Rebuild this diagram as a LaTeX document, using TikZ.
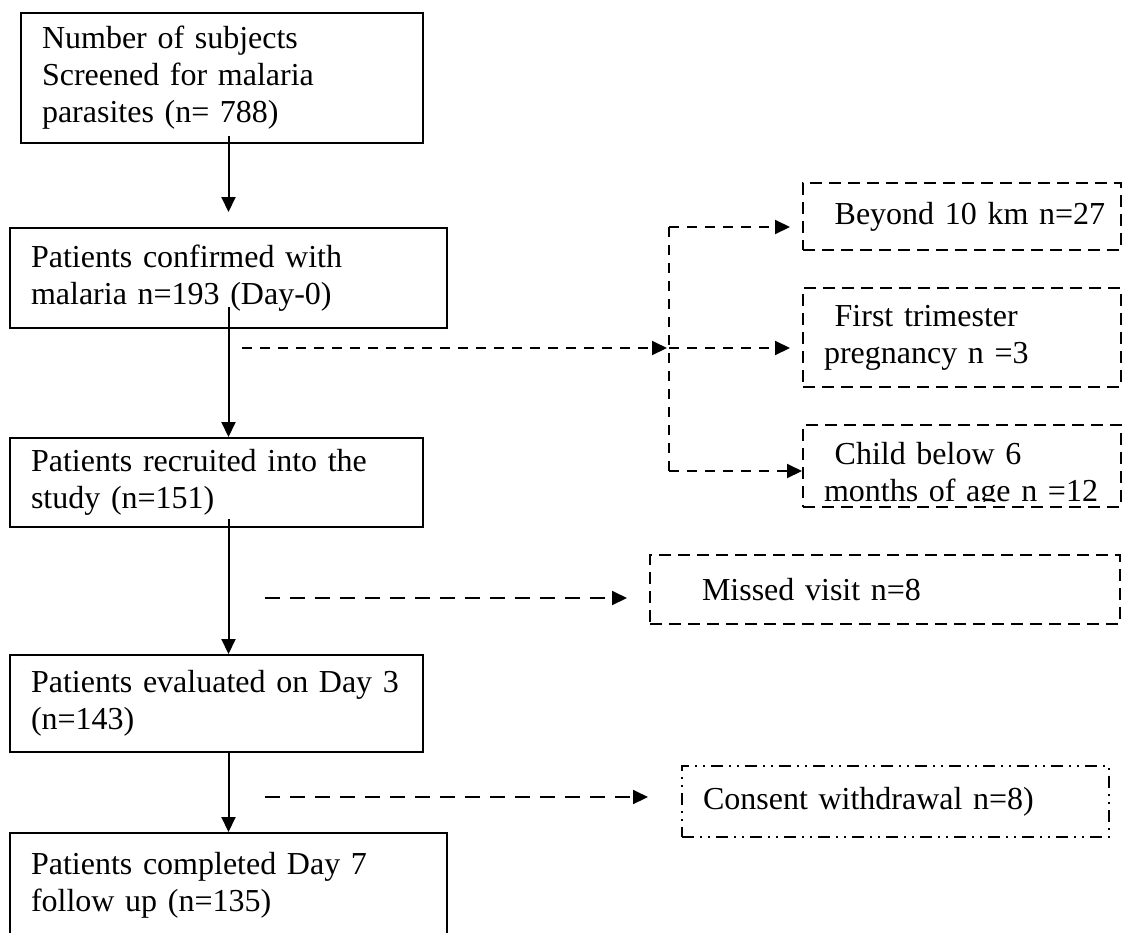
\documentclass[tikz,border=0pt]{standalone}
\usepackage{fontspec}
\setmainfont{Liberation Serif}
\usetikzlibrary{arrows.meta,calc}

\begin{document}
\begin{tikzpicture}[x=1pt,y=-1pt,
  font=\fontsize{32}{37}\selectfont,
  box/.style={draw,line width=2pt,anchor=north west,inner xsep=21pt,inner ysep=0pt,align=left},
  dbox/.style={box,dash pattern=on 12pt off 7pt},
  ddbox/.style={box,dash pattern=on 12pt off 6pt on 2pt off 6pt on 2pt off 6pt},
  flow/.style={line width=2pt,-{Triangle[length=15pt,width=14pt]}},
  excl/.style={flow,dash pattern=on 10pt off 8pt},
  excl2/.style={flow,dash pattern=on 15pt off 10pt}]
\useasboundingbox (0,0) rectangle (1124,932);

% main column
\node[box,minimum height=130pt,text width=360pt] (screen) at (20,12)
  {Number of subjects\\Screened for malaria\\parasites (n= 788)};
\node[box,minimum height=100pt,text width=395pt] (confirm) at (9,227)
  {Patients confirmed with\\malaria n=193 (Day-0)};
\node[box,minimum width=413pt,minimum height=89pt] (recruit) at (9,437) {};
\begin{scope}
  \clip (9,437) rectangle (422,517);
  \node[box,draw=none,anchor=west,text width=371pt] (recruittxt) at (recruit.west)
    {Patients recruited into the\\study (n=151)};
\end{scope}
\node[box,minimum height=97pt,text width=371pt] (eval) at (9,654)
  {Patients evaluated on Day 3\\(n=143)};
\node[box,minimum height=104pt,text width=395pt] (complete) at (9,832)
  {Patients completed Day 7\\follow up (n=135)};

% exclusions
\node[dbox,minimum height=67pt,text width=276pt] (far) at (802,182)
  {\mbox{\ Beyond 10 km n=27}};
\node[dbox,minimum height=99pt,text width=276pt] (preg) at (802,287)
  {\ First trimester\\pregnancy n =3};
\node[dbox,minimum width=318pt,minimum height=82pt] (child) at (802,424) {};
\begin{scope}
  \clip (802,424) rectangle (1120,501);
  \node[box,draw=none,text width=276pt] (childtxt) at (802,441)
    {\ Child below 6\\\mbox{months of age n =12}};
\end{scope}
\node[dbox,minimum height=69pt,text width=428pt] (missed) at (649,554)
  {\hspace*{31pt}Missed visit n=8};
\node[ddbox,minimum height=71pt,text width=385pt] (consent) at (681,765)
  {Consent withdrawal n=8)};

\draw[flow] ($(screen.south -| confirm.north)+(0,-8)$) -- ($(confirm.north)+(0,-15)$);
\draw[flow] ($(confirm.south)+(0,-22)$) -- (confirm.south |- recruit.north);
\draw[flow] ($(confirm.south |- recruit.south)+(0,-9)$) -- (confirm.south |- eval.north);
\draw[flow] (confirm.south |- eval.south) -- (confirm.south |- complete.north);

\coordinate (exstart) at (242,348);
\coordinate (split) at (669,348);
\coordinate (splittop) at (669,227);
\coordinate (splitbot) at (669,471);
\draw[excl] (exstart) -- ($(split)+(-2,0)$);
\draw[excl,-] (splittop) -- (splitbot);
\draw[excl] (split) -- ($(split -| preg.west)+(-12,0)$);
\draw[excl] (splittop) -- ($(splittop -| far.west)+(-12,0)$);
\draw[excl] (splitbot) -- (splitbot -| child.west);

\coordinate (missstart) at (265,598);
\coordinate (consstart) at (265,797);
\draw[excl2] (missstart) -- ($(missstart -| missed.west)+(-22,0)$);
\draw[excl2] (consstart) -- ($(consstart -| consent.west)+(-33,0)$);
\end{tikzpicture}
\end{document}
